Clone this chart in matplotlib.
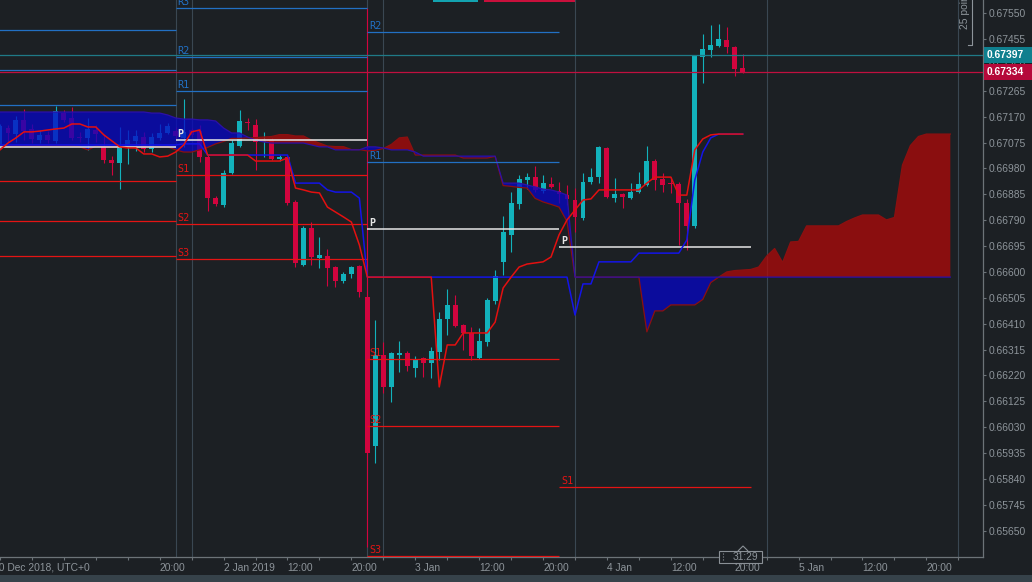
import numpy as np
import matplotlib
matplotlib.use("Agg")
import matplotlib.pyplot as plt
from matplotlib.patches import Rectangle, Polygon
from matplotlib.lines import Line2D

plt.rcParams['font.family'] = ['Liberation Sans', 'DejaVu Sans']

W, H = 1032, 582
BG = '#1c2024'
GREY = '#8d949a'
BULL = '#12b2bc'
BEAR = '#d2043e'

########## hourly NZDUSD bars (bar index, 23 = 2 Jan 00:00)
bars = np.arange(-1, 93)
opens = [
    0.67059, 0.67128, 0.67106, 0.67158, 0.67125, 0.67084, 0.67103, 0.67081, 0.67183, 0.67165,
    0.67095, 0.67092, 0.67121, 0.67059, 0.67011, 0.67000, 0.67059, 0.67081, 0.67095, 0.67051,
    0.67092, 0.67110, 0.67117, 0.67092, 0.67121, 0.67117, 0.67022, 0.66871, 0.66846, 0.66963,
    0.67062, 0.67150, 0.67139, 0.67077, 0.67084, 0.67014, 0.67022, 0.66857, 0.66625, 0.66761,
    0.66651, 0.66658, 0.66618, 0.66567, 0.66592, 0.66622, 0.66508, 0.65961, 0.66295, 0.66178,
    0.66295, 0.66302, 0.66247, 0.66284, 0.66266, 0.66306, 0.66427, 0.66479, 0.66405, 0.66376,
    0.66284, 0.66343, 0.66493, 0.66637, 0.66736, 0.66849, 0.66937, 0.66948, 0.66897, 0.66923,
    0.66897, 0.66882, 0.66864, 0.66798, 0.66930, 0.66948, 0.67055, 0.66871, 0.66886, 0.66871,
    0.66893, 0.66919, 0.67007, 0.66941, 0.66923, 0.66923, 0.66853, 0.66769, 0.67389, 0.67414,
    0.67429, 0.67451, 0.67425, 0.67348,
]
highs = [
    0.67143, 0.67139, 0.67172, 0.67198, 0.67143, 0.67121, 0.67117, 0.67209, 0.67194, 0.67206,
    0.67114, 0.67165, 0.67139, 0.67103, 0.67025, 0.67132, 0.67121, 0.67121, 0.67114, 0.67110,
    0.67143, 0.67147, 0.67132, 0.67235, 0.67128, 0.67139, 0.67029, 0.66879, 0.66974, 0.67084,
    0.67194, 0.67165, 0.67161, 0.67114, 0.67092, 0.67029, 0.67029, 0.66864, 0.66769, 0.66783,
    0.66728, 0.66684, 0.66622, 0.66600, 0.66622, 0.66625, 0.67569, 0.66424, 0.66343, 0.66306,
    0.66347, 0.66310, 0.66291, 0.66288, 0.66324, 0.66453, 0.66537, 0.66515, 0.66409, 0.66398,
    0.66394, 0.66504, 0.66607, 0.66805, 0.66893, 0.66956, 0.66963, 0.66989, 0.66956, 0.66948,
    0.66930, 0.66919, 0.66908, 0.66963, 0.66981, 0.67062, 0.67059, 0.66945, 0.66890, 0.66926,
    0.66967, 0.67062, 0.67014, 0.66963, 0.66948, 0.66930, 0.66868, 0.67396, 0.67473, 0.67506,
    0.67510, 0.67499, 0.67429, 0.67400,
]
lows = [
    0.67051, 0.67077, 0.67077, 0.67084, 0.67073, 0.67073, 0.67073, 0.67073, 0.67150, 0.67084,
    0.67077, 0.67048, 0.67077, 0.67000, 0.66956, 0.66904, 0.66996, 0.67044, 0.67040, 0.67040,
    0.67084, 0.67106, 0.67084, 0.67059, 0.67095, 0.67003, 0.66824, 0.66842, 0.66838, 0.66959,
    0.67059, 0.67121, 0.66974, 0.67022, 0.67011, 0.67007, 0.66846, 0.66618, 0.66622, 0.66625,
    0.66614, 0.66548, 0.66545, 0.66559, 0.66578, 0.66508, 0.65590, 0.65899, 0.66156, 0.66123,
    0.66233, 0.66236, 0.66214, 0.66214, 0.66211, 0.66277, 0.66369, 0.66398, 0.66314, 0.66277,
    0.66280, 0.66328, 0.66482, 0.66589, 0.66673, 0.66831, 0.66904, 0.66893, 0.66890, 0.66908,
    0.66853, 0.66846, 0.66747, 0.66791, 0.66923, 0.66926, 0.66871, 0.66857, 0.66835, 0.66868,
    0.66890, 0.66915, 0.66901, 0.66893, 0.66890, 0.66699, 0.66681, 0.66761, 0.67293, 0.67389,
    0.67425, 0.67403, 0.67319, 0.67330,
]
closes = [
    0.67136, 0.67110, 0.67158, 0.67117, 0.67088, 0.67103, 0.67084, 0.67191, 0.67158, 0.67092,
    0.67093, 0.67125, 0.67106, 0.67011, 0.67000, 0.67055, 0.67084, 0.67099, 0.67051, 0.67095,
    0.67110, 0.67136, 0.67099, 0.67114, 0.67103, 0.67022, 0.66871, 0.66849, 0.66963, 0.67073,
    0.67154, 0.67147, 0.67077, 0.67081, 0.67014, 0.67022, 0.66853, 0.66633, 0.66761, 0.66655,
    0.66662, 0.66614, 0.66567, 0.66592, 0.66618, 0.66526, 0.65935, 0.66295, 0.66178, 0.66302,
    0.66302, 0.66255, 0.66277, 0.66266, 0.66310, 0.66427, 0.66479, 0.66402, 0.66376, 0.66291,
    0.66347, 0.66497, 0.66585, 0.66747, 0.66853, 0.66941, 0.66948, 0.66901, 0.66926, 0.66912,
    0.66886, 0.66868, 0.66802, 0.66930, 0.66948, 0.67059, 0.66875, 0.66886, 0.66875, 0.66893,
    0.66923, 0.67007, 0.66937, 0.66919, 0.66921, 0.66853, 0.66769, 0.67392, 0.67418, 0.67433,
    0.67455, 0.67425, 0.67345, 0.67334,
]

##### Ichimoku lines
tenkan = [
    0.67048, 0.67073, 0.67092, 0.67114, 0.67114, 0.67117, 0.67121, 0.67125, 0.67128, 0.67143,
    0.67143, 0.67132, 0.67132, 0.67103, 0.67081, 0.67059, 0.67055, 0.67055, 0.67033, 0.67033,
    0.67022, 0.67025, 0.67040, 0.67066, 0.67114, 0.67121, 0.67029, 0.67029, 0.67029, 0.67029,
    0.67029, 0.67029, 0.67007, 0.67007, 0.67007, 0.67007, 0.67018, 0.66908, 0.66901, 0.66893,
    0.66890, 0.66838, 0.66820, 0.66802, 0.66783, 0.66699, 0.66581, 0.66581, 0.66581, 0.66581,
    0.66581, 0.66581, 0.66581, 0.66581, 0.66581, 0.66178, 0.66332, 0.66332, 0.66376, 0.66376,
    0.66376, 0.66376, 0.66416, 0.66541, 0.66581, 0.66618, 0.66629, 0.66633, 0.66637, 0.66655,
    0.66736, 0.66791, 0.66827, 0.66864, 0.66868, 0.66901, 0.66901, 0.66901, 0.66901, 0.66901,
    0.66901, 0.66926, 0.66948, 0.66948, 0.66948, 0.66882, 0.66882, 0.67048, 0.67088, 0.67103,
    0.67106, 0.67106, 0.67106, 0.67106,
]
kijun = (
    [0.67066] * 23 + [0.67070] * 3 + [0.67029] * 11 + [0.66926] * 4
    + [0.66901, 0.66893, 0.66893, 0.66893, 0.66871] + [0.66581] * 26
    + [0.66442, 0.66556, 0.66556] + [0.66637] * 5 + [0.66669] * 6
    + [0.66717, 0.66937, 0.67040, 0.67092] + [0.67106] * 4
)

cloud_bars = np.arange(-1, 119)
span_a = (
    [0.67062] * 10 + [0.67059, 0.67048, 0.67062] + [0.67059] * 9
    + [0.67048, 0.67040, 0.67040, 0.67048]
    + [0.67057, 0.67070, 0.67079, 0.67090, 0.67090, 0.67092, 0.67093, 0.67095, 0.67097,
       0.67104, 0.67104, 0.67099, 0.67099, 0.67084, 0.67073, 0.67062, 0.67060, 0.67060,
       0.67049, 0.67049, 0.67044, 0.67046, 0.67053, 0.67068, 0.67092, 0.67095]
    + [0.67029] * 6 + [0.67018] * 4
    + [0.67024, 0.66917, 0.66914, 0.66910, 0.66908, 0.66870, 0.66857, 0.66848, 0.66838, 0.66785]
    + [0.66581] * 9 + [0.66380, 0.66457, 0.66457] + [0.66479] * 4
    + [0.66499, 0.66561, 0.66581, 0.66600, 0.66605, 0.66607, 0.66609, 0.66618, 0.66658,
       0.66686, 0.66635, 0.66710, 0.66712]
    + [0.66769] * 5 + [0.66785, 0.66798] + [0.66809] * 3
    + [0.66791, 0.66800, 0.66992, 0.67064, 0.67097] + [0.67106] * 4
)
span_b = (
    [0.67187] * 19 + [0.67183] * 2 + [0.67176, 0.67165] + [0.67161] * 2 + [0.67158] * 2
    + [0.67154, 0.67128, 0.67110, 0.67110, 0.67095, 0.67084, 0.67077] + [0.67073] * 5
    + [0.67066, 0.67059, 0.67059] + [0.67048] * 4 + [0.67059, 0.67059, 0.67055]
    + [0.67048] * 3 + [0.67040] + [0.67025] * 10 + [0.66926] * 3
    + [0.66919, 0.66912, 0.66904, 0.66901, 0.66893, 0.66882] + [0.66581] * 48
)

##### daily pivot points (one column per day)
pivot_start = [-3, 21, 45, 69]
pivot_end = [21, 45, 69, 93]
nan = np.nan
pivots = {
    'R3': [0.67488, 0.67569, nan, nan],
    'R2': [0.67341, 0.67389, 0.67481, nan],
    'R1': [0.67213, 0.67264, 0.67003, nan],
    'P': [0.67060, 0.67084, 0.66758, 0.66691],
    'S1': [0.66934, 0.66956, 0.66280, 0.65811],
    'S2': [0.66787, 0.66776, 0.66035, nan],
    'S3': [0.66658, 0.66647, 0.65556, nan],
}
pivot_colors = {'R': '#2270c4', 'P': '#e6e6e6', 'S': '#e41414'}

ask_price = 0.67397
bid_price = 0.67334

separator_bars = [21, 23, 45, 47, 71, 95, 119]

price_ticks = [0.67550, 0.67455, 0.67360, 0.67265, 0.67170, 0.67075, 0.66980, 0.66885,
               0.66790, 0.66695, 0.66600, 0.66505, 0.66410, 0.66315, 0.66220, 0.66125,
               0.66030, 0.65935, 0.65840, 0.65745, 0.65650]
time_ticks = [19, 27, 35, 43, 51, 59, 67, 75, 83, 91, 99, 107, 115]
time_labels = ['20:00', '2 Jan 2019', '12:00', '20:00', '3 Jan', '12:00', '20:00',
               '4 Jan', '12:00', '20:00', '5 Jan', '12:00', '20:00']


def fx(px):
    return px / W


def fy(py):
    return 1 - py / H


fig = plt.figure(figsize=(W / 100, H / 100), dpi=100, facecolor=BG)
ax = fig.add_axes([0, 25 / H, 983 / W, 557 / H])
ax.set_facecolor(BG)
ax.set_xlim(-0.7875, 122.09)
ax.set_ylim(0.655538, 0.67598)

for b in separator_bars:
    ax.axvline(b, color='#3a4752', lw=0.8, zorder=1)

##### candles
o = np.array(opens)
c = np.array(closes)
colors = np.where(c >= o, BULL, BEAR)
ax.vlines(bars, lows, highs, colors=colors, lw=0.8, zorder=2)
body = np.maximum(np.abs(c - o), 0.00004)
ax.bar(bars, body, bottom=np.minimum(o, c), width=0.62, color=colors, lw=0, zorder=2)

##### cloud
sa = np.array(span_a)
sb = np.array(span_b)
ax.fill_between(cloud_bars, sa, sb, where=sa >= sb, interpolate=True,
                color='#b00909', alpha=0.75, lw=0, zorder=3)
ax.fill_between(cloud_bars, sa, sb, where=sa < sb, interpolate=True,
                color='#0606c6', alpha=0.75, lw=0, zorder=3)
ax.plot(cloud_bars, sa, color='#8c1010', lw=0.9, zorder=3)
ax.plot(cloud_bars, sb, color='#2c10a8', lw=0.9, zorder=3)

##### pivots
for name, levels in pivots.items():
    col = pivot_colors[name[0]]
    for i, lv in enumerate(levels):
        if np.isnan(lv):
            continue
        ax.hlines(lv, pivot_start[i], pivot_end[i], color=col,
                  lw=1.1 if name == 'P' else 0.9, zorder=4)
        if i > 0:
            ax.text(pivot_start[i] + 0.25, lv + 0.00005, name, color=col,
                    family='DejaVu Sans Mono', fontsize=7.3, va='bottom', ha='left',
                    fontweight='bold' if name == 'P' else 'normal', zorder=4)

ax.plot(bars, kijun, color='#1414e8', lw=1.1, zorder=5)
ax.plot(bars, tenkan, color='#e41010', lw=1.1, zorder=5)

ax.axhline(ask_price, color='#1f7a87', lw=0.9, zorder=6)
ax.axhline(bid_price, color='#c0103f', lw=0.9, zorder=6)

##### axes styling
for s in ['top', 'left']:
    ax.spines[s].set_visible(False)
for s in ['bottom', 'right']:
    ax.spines[s].set_color('#6c7378')
    ax.spines[s].set_linewidth(0.9)
ax.yaxis.tick_right()
ax.set_yticks(price_ticks)
ax.set_yticklabels(['%.5f' % p for p in price_ticks])
ax.tick_params(axis='y', length=2.2, width=0.8, color='#6c7378', pad=1.5,
               labelsize=7.4, labelcolor=GREY)
ax.set_xticks(time_ticks)
ax.set_xticklabels(time_labels)
ax.set_xticks(np.arange(-1, 122, 4), minor=True)
ax.tick_params(axis='x', which='both', length=2.2, width=0.8, color='#6c7378', pad=2.2,
               labelsize=7.4, labelcolor=GREY)
plt.setp(ax.get_xticklabels(), ha='left')

fig.text(fx(-7), fy(563), '30 Dec 2018, UTC+0', color=GREY, fontsize=7.4, va='top', ha='left')

##### overlays
fig.add_artist(Rectangle((0, 0), 1, fy(575), transform=fig.transFigure,
                         facecolor='#36424a', lw=0))
fig.add_artist(Rectangle((fx(433), fy(2)), fx(45), fx(0) + 2 / H, transform=fig.transFigure,
                         facecolor='#13a3b0', lw=0))
fig.add_artist(Rectangle((fx(484), fy(2)), fx(91), 2 / H, transform=fig.transFigure,
                         facecolor='#c8103c', lw=0))

for price, col, top in [(ask_price, '#0f7f8e', 47), (bid_price, '#b5093a', 64)]:
    fig.add_artist(Rectangle((fx(984), fy(top + 16)), fx(48), 16 / H,
                             transform=fig.transFigure, facecolor=col, lw=0))
    fig.text(fx(987), fy(top + 8), '%.5f' % price, color='white', fontsize=7.4,
             fontweight='bold', va='center', ha='left')

fig.text(fx(965), fy(29), '25 points', rotation=90, color=GREY, fontsize=7.4,
         ha='center', va='bottom')
fig.add_artist(Line2D([fx(972), fx(972), fx(968)], [fy(0), fy(45), fy(45)],
                      transform=fig.transFigure, color=GREY, lw=0.8))

fig.add_artist(Rectangle((fx(719), fy(563)), fx(43), 12 / H, transform=fig.transFigure,
                         facecolor=BG, edgecolor='#8a9096', lw=0.8))
fig.add_artist(Polygon([(fx(738), fy(551)), (fx(743), fy(546)), (fx(748), fy(551))],
                       closed=False, transform=fig.transFigure, facecolor=BG,
                       edgecolor='#8a9096', lw=0.8))
fig.add_artist(Line2D([fx(723), fx(723)], [fy(553), fy(561)], transform=fig.transFigure,
                      color='#8a9096', lw=0.8, ls=':'))
fig.text(fx(745), fy(557.5), '31:29', color=GREY, fontsize=7.4, ha='center', va='center')

fig.savefig('out.png', dpi=100, facecolor=BG)
